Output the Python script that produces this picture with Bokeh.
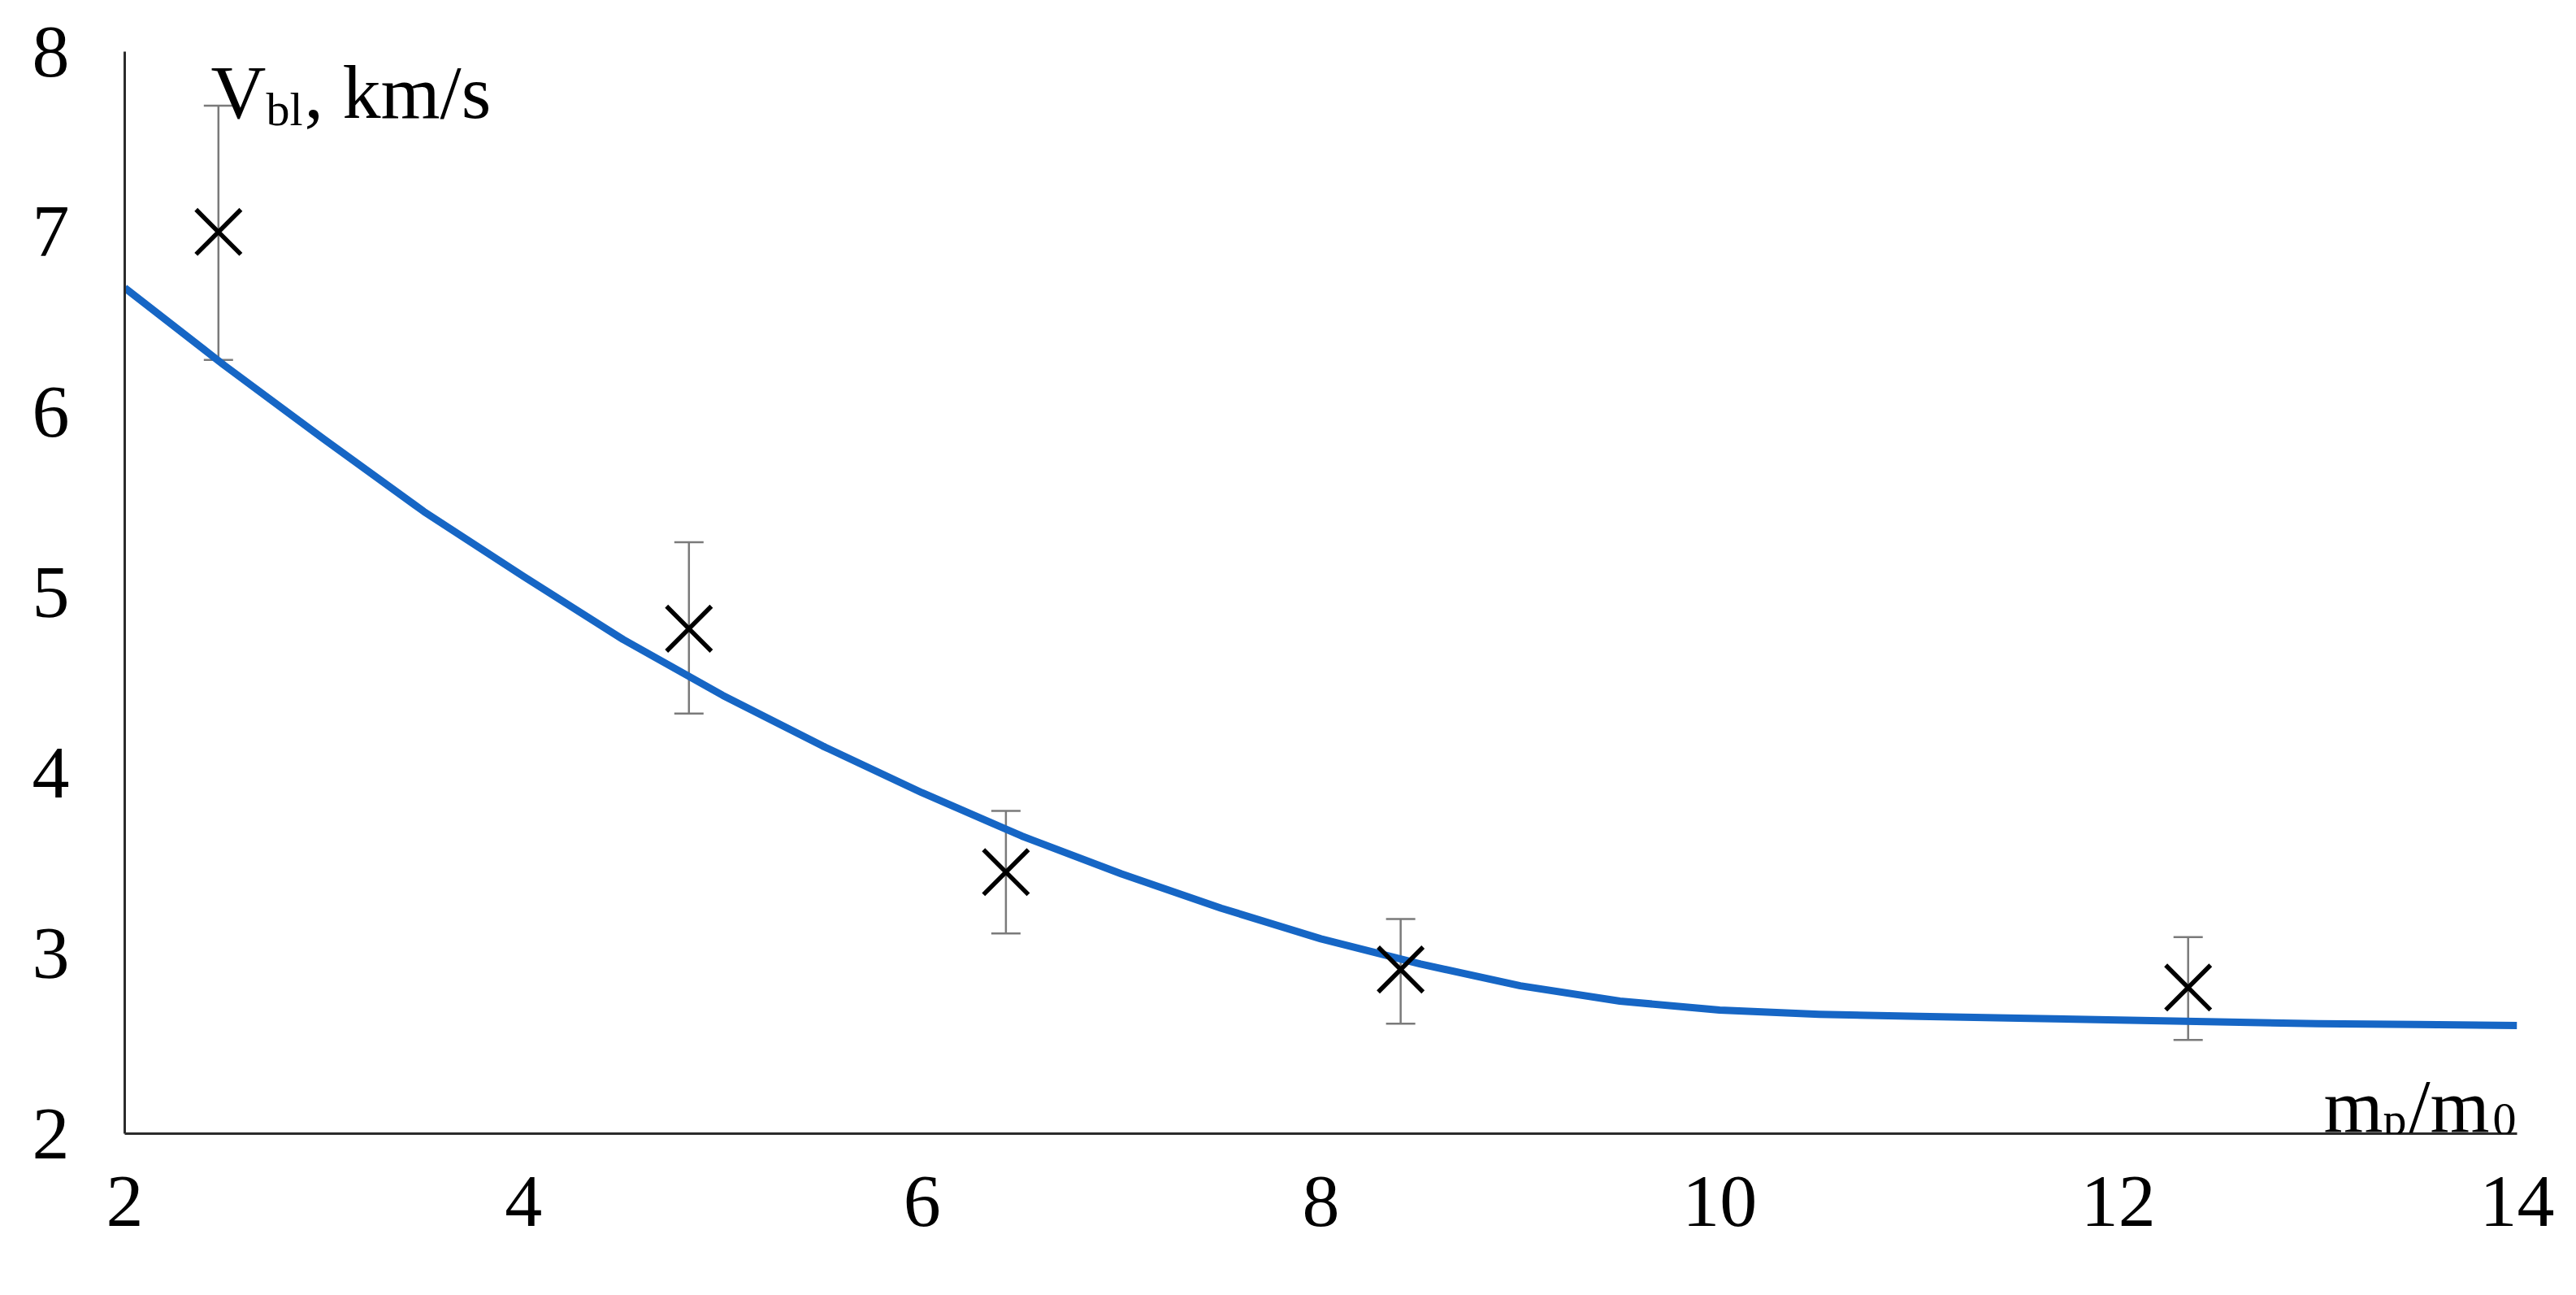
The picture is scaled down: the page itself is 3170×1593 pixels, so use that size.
from bokeh.plotting import figure
from bokeh.models import ColumnDataSource, Whisker, TeeHead, Label, FixedTicker, Range1d
from bokeh.embed import file_html
from bokeh.resources import INLINE

# ---- data ----
curve_x = [2.0, 2.5, 3.0, 3.5, 4.0, 4.5, 5.0, 5.5, 6.0, 6.5, 7.0, 7.5, 8.0,
           8.5, 9.0, 9.5, 10.0, 10.5, 11.0, 11.5, 12.0, 12.5, 13.0, 13.5, 14.0]
curve_y = [6.69, 6.26, 5.85, 5.45, 5.09, 4.74, 4.43, 4.15, 3.89, 3.65, 3.44, 3.25, 3.08,
           2.94, 2.82, 2.735, 2.685, 2.662, 2.65, 2.64, 2.63, 2.62, 2.61, 2.605, 2.60]

pts_x = [2.47, 4.83, 6.42, 8.40, 12.35]
pts_y = [7.00, 4.80, 3.45, 2.91, 2.81]
pts_upper = [7.70, 5.28, 3.79, 3.19, 3.09]
pts_lower = [6.29, 4.33, 3.11, 2.61, 2.52]

x_ticks = [2, 4, 6, 8, 10, 12, 14]
y_ticks = [2, 3, 4, 5, 6, 7, 8]

FONT = "Liberation Serif"

# ---- layout ----
FL, FT, FW, FH = 153, 63, 2944, 1331
X0, X1, Y0, Y1 = 2, 14, 2, 8

p = figure(frame_width=FW, frame_height=FH,
           min_border_left=FL, min_border_right=57,
           min_border_top=FT, min_border_bottom=183,
           x_range=Range1d(X0, X1), y_range=Range1d(Y0, Y1),
           output_backend="svg", toolbar_location=None)
p.background_fill_color = "white"
p.border_fill_color = "white"
p.outline_line_color = None
p.xgrid.visible = False
p.ygrid.visible = False

for ax, ticks, standoff in ((p.xaxis[0], x_ticks, 53), (p.yaxis[0], y_ticks, 68)):
    ax.ticker = FixedTicker(ticks=ticks)
    ax.axis_line_color = "#2b2b2b"
    ax.axis_line_width = 3
    ax.major_tick_line_color = None
    ax.minor_tick_line_color = None
    ax.major_tick_in = 0
    ax.major_tick_out = 0
    ax.major_label_standoff = standoff
    ax.major_label_text_font = FONT
    ax.major_label_text_font_size = "92px"
    ax.major_label_text_color = "black"

def dx(px):
    return X0 + (px - FL) / (FW / (X1 - X0))

def dy(py):
    return Y1 - (py - FT) / (FH / (Y1 - Y0))

# error bars
src = ColumnDataSource(dict(x=pts_x, y=pts_y, upper=pts_upper, lower=pts_lower))
err_col = "#7a7a7a"
wh = Whisker(source=src, base="x", upper="upper", lower="lower",
             line_color=err_col, line_width=2.5,
             upper_head=TeeHead(size=36, line_color=err_col, line_width=2.5),
             lower_head=TeeHead(size=36, line_color=err_col, line_width=2.5))
p.add_layout(wh)

# fitted curve
p.line(curve_x, curve_y, line_color="#1666C5", line_width=9, line_join="round")

# measured points
p.scatter("x", "y", source=src, marker="x", size=78, line_color="black", line_width=5.5)

# axis titles with subscripts
def lab(px, py, text, size):
    p.add_layout(Label(x=dx(px), y=dy(py), text=text, text_font=FONT,
                       text_font_size=size, text_color="black",
                       text_align="left", text_baseline="alphabetic"))

lab(259, 112, "V", "94px")
lab(327, 134, "bl", "58px")
lab(374, 112, ", km/s", "94px")

lab(2859, 1359, "m", "94px")
lab(2932, 1376, "p", "58px")
lab(2964, 1359, "/m", "94px")
lab(3067, 1376, "0", "58px")

open("out.html", "w").write(file_html(p, INLINE))
